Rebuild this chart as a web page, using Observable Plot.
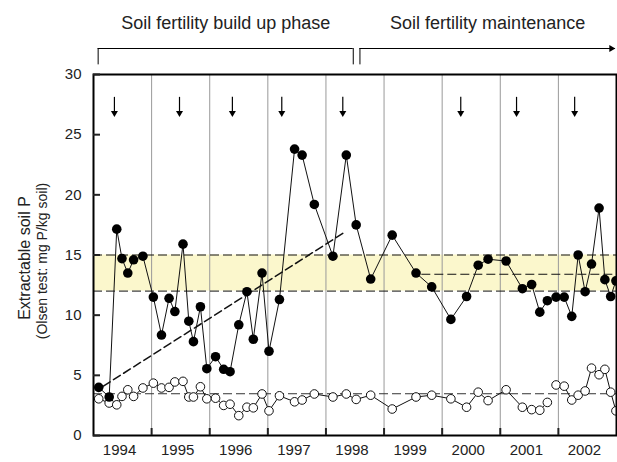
<!DOCTYPE html>
<html><head><meta charset="utf-8">
<script src="https://cdn.jsdelivr.net/npm/d3@7"></script>
<script src="https://cdn.jsdelivr.net/npm/@observablehq/plot@0.6"></script>
<style>body{margin:0;background:#fff}</style>
</head><body><div id="chart"></div>
<script>
// sampling dates (decimal years; season "1994" runs 1994–1995)
const sampleYears = [1994.09,1994.27,1994.40,1994.49,1994.59,1994.69,1994.85,1995.03,1995.17,1995.30,
  1995.40,1995.54,1995.64,1995.72,1995.84,1995.95,1996.10,1996.24,1996.35,1996.50,
  1996.64,1996.75,1996.90,1997.02,1997.20,1997.46,1997.59,1997.80,1998.12,1998.35,
  1998.52,1998.77,1999.14,1999.55,1999.82,2000.15,2000.42,2000.62,2000.79,2001.10,
  2001.38,2001.54,2001.68,2001.81,2001.96,2002.10,2002.23,2002.34,2002.46,2002.57,
  2002.70,2002.80,2002.90,2002.99];
const fertilized = [4.0,3.2,17.15,14.7,13.5,14.6,14.9,11.5,8.35,11.4,
  10.3,15.9,9.5,7.8,10.7,5.55,6.55,5.5,5.3,9.2,
  11.95,8.0,13.5,7.0,11.3,23.8,23.3,19.2,14.9,23.3,
  17.5,13.0,16.65,13.5,12.35,9.65,11.55,14.15,14.65,14.5,
  12.2,12.55,10.25,11.2,11.5,11.5,9.9,15.0,11.95,14.25,
  18.9,12.95,11.55,12.85];
const unfertilized = [3.05,2.7,2.55,3.25,3.8,3.25,3.95,4.35,3.95,4.0,
  4.45,4.5,3.2,3.2,4.05,3.05,3.1,2.5,2.6,1.65,
  2.35,2.3,3.45,2.05,3.3,2.8,2.95,3.45,3.2,3.45,
  3.0,3.35,2.2,3.2,3.35,3.05,2.35,3.6,2.9,3.8,
  2.35,2.15,2.1,2.75,4.2,4.1,2.95,3.35,3.7,5.6,
  5.05,5.5,3.6,2.05];
const unfertilizedBreakAfter = 2001.81;   // the open-circle line is broken after this date
const applicationYears = [1994.36,1995.48,1996.39,1997.24,1998.29,2000.32,2001.28,2002.28];
const yearLabels = [1994,1995,1996,1997,1998,1999,2000,2001,2002];
const seasonBoundaries = [1995,1996,1997,1998,1999,2000,2001,2002];
const yTicks = [0,5,10,15,20,25,30];
const targetBand = [12, 15];
const maintenanceMean = 13.4, maintenanceMeanFrom = 1999.65;
const unfertilizedMean = 3.47;
const trendX = [1994.17, 1998.31], trendY = [4.1, 16.86];
const phaseLabels = ["Soil fertility build up phase", "Soil fertility maintenance"];
const phaseStart = [1994.08, 1998.585];
const phaseEnd = [1998.47, 2002.98];

const pts = sampleYears.map((x, i) => ({x, f: fertilized[i], u: unfertilized[i], seg: x > unfertilizedBreakAfter ? 1 : 0}));
const phases = phaseLabels.map((label, i) => ({label, start: phaseStart[i], end: phaseEnd[i], mid: (phaseStart[i] + phaseEnd[i]) / 2}));
const trend = trendX.map((x, i) => ({x, y: trendY[i]}));
const X0 = 1994, X1 = 2003;
const font = "Liberation Sans, Arial, Helvetica, sans-serif";
const bracketTop = 32.16, bracketBottom = 30.8, phaseTextY = 34.3;

const chart = Plot.plot({
  width: 617, height: 462,
  marginLeft: 93, marginRight: 1, marginTop: 74, marginBottom: 27,
  style: {fontFamily: font, fontSize: "15px", color: "#222", background: "#fff"},
  x: {domain: [X0, X1], axis: null},
  y: {domain: [0, 30], axis: null},
  marks: [
    Plot.rectY([targetBand], {x1: X0, x2: X1, y1: d => d[0], y2: d => d[1], fill: "#fbf7cc"}),
    Plot.ruleX(seasonBoundaries, {stroke: "#999", strokeWidth: 1}),
    Plot.ruleY(targetBand, {x1: X0, x2: X1, stroke: "#111", strokeDasharray: "9,4"}),
    Plot.ruleY([maintenanceMean], {x1: maintenanceMeanFrom, x2: X1, stroke: "#111", strokeDasharray: "9,4"}),
    Plot.ruleY([unfertilizedMean], {x1: X0, x2: X1, stroke: "#333", strokeDasharray: "9,4"}),
    Plot.line(trend, {x: "x", y: "y", stroke: "#111", strokeDasharray: "8,4"}),
    Plot.line(pts, {x: "x", y: "u", z: "seg", stroke: "#111", strokeWidth: 1, clip: true}),
    Plot.line(pts, {x: "x", y: "f", stroke: "#111", strokeWidth: 1, clip: true}),
    Plot.dot(pts, {x: "x", y: "u", r: 4.3, fill: "white", stroke: "#111", strokeWidth: 1, clip: true}),
    Plot.dot(pts, {x: "x", y: "f", r: 4.8, fill: "#000", stroke: "none", clip: true}),
    // application arrows
    Plot.ruleX(applicationYears, {y1: 28.1, y2: 26.9, stroke: "#000", strokeWidth: 1.2}),
    Plot.dot(applicationYears, {x: d => d, y: 26.8, symbol: "triangle", rotate: 180, r: 2.6, fill: "#000", stroke: "none"}),
    // frame & axes
    Plot.frame({stroke: "#000", strokeWidth: 2}),
    Plot.axisY({ticks: yTicks, tickSize: -7, tickPadding: 19, strokeWidth: 2, fontSize: 15, fill: "#222", tickFormat: d => String(d)}),
    Plot.axisX({ticks: seasonBoundaries, tickSize: -7, strokeWidth: 2, fill: "none", tickFormat: () => ""}),
    Plot.axisX({ticks: yearLabels.map(y => y + 0.5), tickSize: 0, tickPadding: 9, dx: -3, fontSize: 15, fill: "#222", tickFormat: d => String(Math.floor(d))}),
    // y-axis title
    Plot.text(["Extractable soil P"], {frameAnchor: "left", dx: -64, dy: 3, rotate: -90, textAnchor: "middle", lineAnchor: "bottom", fontSize: 16, fill: "#222"}),
    Plot.text(["(Olsen test: mg P/kg soil)"], {frameAnchor: "left", dx: -47, dy: 6, rotate: -90, textAnchor: "middle", lineAnchor: "bottom", fontSize: 14, fill: "#222"}),
    // phase brackets
    Plot.text(phases, {x: "mid", y: phaseTextY, text: "label", fontSize: 18, fill: "#222"}),
    Plot.ruleY(phases, {x1: "start", x2: "end", y: bracketTop, stroke: "#000", strokeWidth: 1}),
    Plot.ruleX([phases[0]], {x: "start", y1: bracketTop, y2: bracketBottom, stroke: "#000"}),
    Plot.ruleX([phases[0]], {x: "end", y1: bracketTop, y2: bracketBottom, stroke: "#000"}),
    Plot.ruleX([phases[1]], {x: "start", y1: bracketTop, y2: bracketBottom, stroke: "#000"}),
    Plot.dot([phases[1]], {x: "end", y: bracketTop, dx: -4, symbol: "triangle", rotate: 90, r: 2.6, fill: "#000", stroke: "none"})
  ]
});
document.getElementById("chart").appendChild(chart);
</script>
</body></html>
